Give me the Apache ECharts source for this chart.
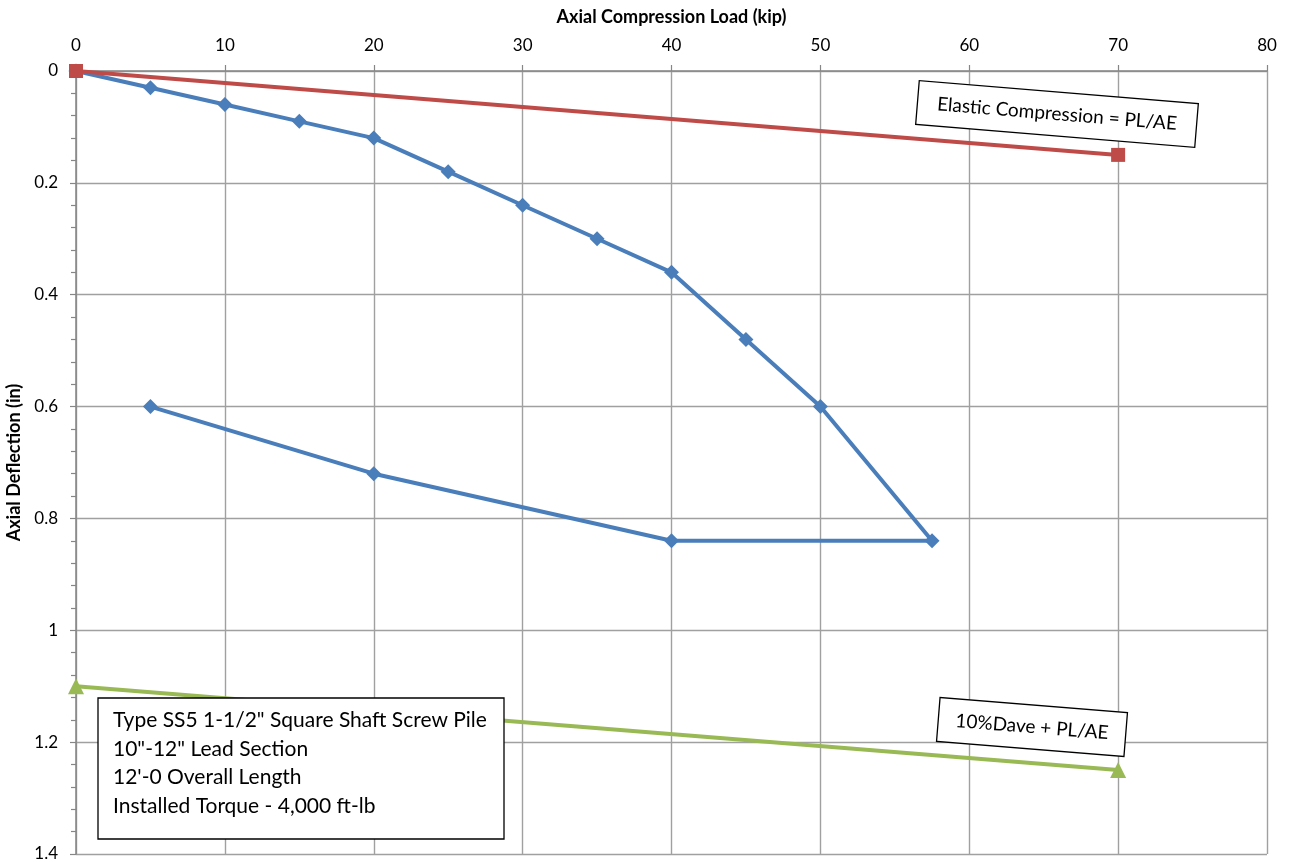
<!DOCTYPE html>
<html><head><meta charset="utf-8">
<script src="https://cdn.jsdelivr.net/npm/echarts@6/dist/echarts.min.js"></script>
<style>html,body{margin:0;padding:0;background:#fff}#c{width:1290px;height:865px}</style>
</head><body><div id="c"></div>
<script>
// Data
const loadTestX = [0, 5, 10, 15, 20, 25, 30, 35, 40, 45, 50, 57.5, 40, 20, 5];
const loadTestY = [0, 0.03, 0.06, 0.09, 0.12, 0.18, 0.24, 0.30, 0.36, 0.48, 0.60, 0.84, 0.84, 0.72, 0.60];
const elasticX = [0, 70];
const elasticY = [0, 0.15];
const limitX = [0, 70];
const limitY = [1.1, 1.25];
const xTitle = 'Axial Compression Load (kip)';
const yTitle = 'Axial Deflection (in)';
const elasticLabel = 'Elastic Compression = PL/AE';
const limitLabel = '10%Dave + PL/AE';
const infoLines = ['Type SS5 1-1/2" Square Shaft Screw Pile', '10"-12" Lead Section', "12'-0 Overall Length", 'Installed Torque - 4,000 ft-lb'];

const pairs = (xs, ys) => xs.map((x, i) => [x, ys[i]]);
const FONT = 'Lato, "Open Sans", sans-serif';

const chart = echarts.init(document.getElementById('c'));
chart.setOption({
  animation: false,
  backgroundColor: '#fff',
  grid: { left: 76, right: 23, top: 71, bottom: 11, containLabel: false, outerBoundsMode: 'none' },
  xAxis: {
    type: 'value', position: 'top', min: 0, max: 80, interval: 10,
    name: xTitle, nameLocation: 'middle', nameGap: 45,
    nameTextStyle: { fontFamily: FONT, fontWeight: 'bold', fontSize: 18, color: '#000' },
    axisLine: { show: true, lineStyle: { color: '#868686', width: 1.5 } },
    axisTick: { show: true, length: 6, lineStyle: { color: '#868686', width: 1.2 } },
    axisLabel: { fontFamily: FONT, fontSize: 17, color: '#000', margin: 17 },
    splitLine: { show: true, lineStyle: { color: '#a0a0a0', width: 1.4 } }
  },
  yAxis: {
    type: 'value', inverse: true, min: 0, max: 1.4, interval: 0.2,
    name: yTitle, nameLocation: 'middle', nameGap: 48, nameRotate: 90,
    nameTextStyle: { fontFamily: FONT, fontWeight: 'bold', fontSize: 18, color: '#000' },
    axisLine: { show: true, lineStyle: { color: '#868686', width: 1.5 } },
    axisTick: { show: true, length: 6, lineStyle: { color: '#868686', width: 1.2 } },
    minorTick: { show: true, splitNumber: 5, length: 5, lineStyle: { color: '#868686', width: 1.2 } },
    axisLabel: { fontFamily: FONT, fontSize: 17, color: '#000', margin: 18 },
    splitLine: { show: true, lineStyle: { color: '#a0a0a0', width: 1.4 } }
  },
  series: [
    {
      type: 'line', data: pairs(loadTestX, loadTestY), symbol: 'diamond', symbolSize: 15,
      lineStyle: { color: '#4A7EBB', width: 4 }, itemStyle: { color: '#4A7EBB' }
    },
    {
      type: 'line', data: pairs(elasticX, elasticY), symbol: 'rect', symbolSize: 14,
      lineStyle: { color: '#BE4B48', width: 4 }, itemStyle: { color: '#BE4B48' }
    },
    {
      type: 'line', data: pairs(limitX, limitY), symbol: 'triangle', symbolSize: 16,
      lineStyle: { color: '#98B954', width: 4 }, itemStyle: { color: '#98B954' }
    }
  ],
  graphic: [
    {
      type: 'group', x: 1057, y: 114, rotation: -0.082, z: 100,
      children: [
        { type: 'rect', z: 100, shape: { x: -140, y: -22, width: 280, height: 44 }, style: { fill: '#fff', stroke: '#000', lineWidth: 1.3 } },
        { type: 'text', z: 101, x: 0, y: 0, style: { text: elasticLabel, font: '19px ' + FONT, fill: '#000', align: 'center', verticalAlign: 'middle' } }
      ]
    },
    {
      type: 'group', x: 1032, y: 727, rotation: -0.08, z: 100,
      children: [
        { type: 'rect', z: 100, shape: { x: -94, y: -22, width: 188, height: 44 }, style: { fill: '#fff', stroke: '#000', lineWidth: 1.3 } },
        { type: 'text', z: 101, x: 0, y: 0, style: { text: limitLabel, font: '19px ' + FONT, fill: '#000', align: 'center', verticalAlign: 'middle' } }
      ]
    },
    {
      type: 'group', x: 98, y: 698, z: 100,
      children: [
        { type: 'rect', z: 100, shape: { x: 0, y: 0, width: 406, height: 141 }, style: { fill: '#fff', stroke: '#000', lineWidth: 1.3 } },
        { type: 'text', z: 101, x: 15, y: 8, style: { text: infoLines.join('\n'), font: '21px ' + FONT, lineHeight: 28.5, fill: '#000', align: 'left', verticalAlign: 'top' } }
      ]
    }
  ]
});
</script>
</body></html>
